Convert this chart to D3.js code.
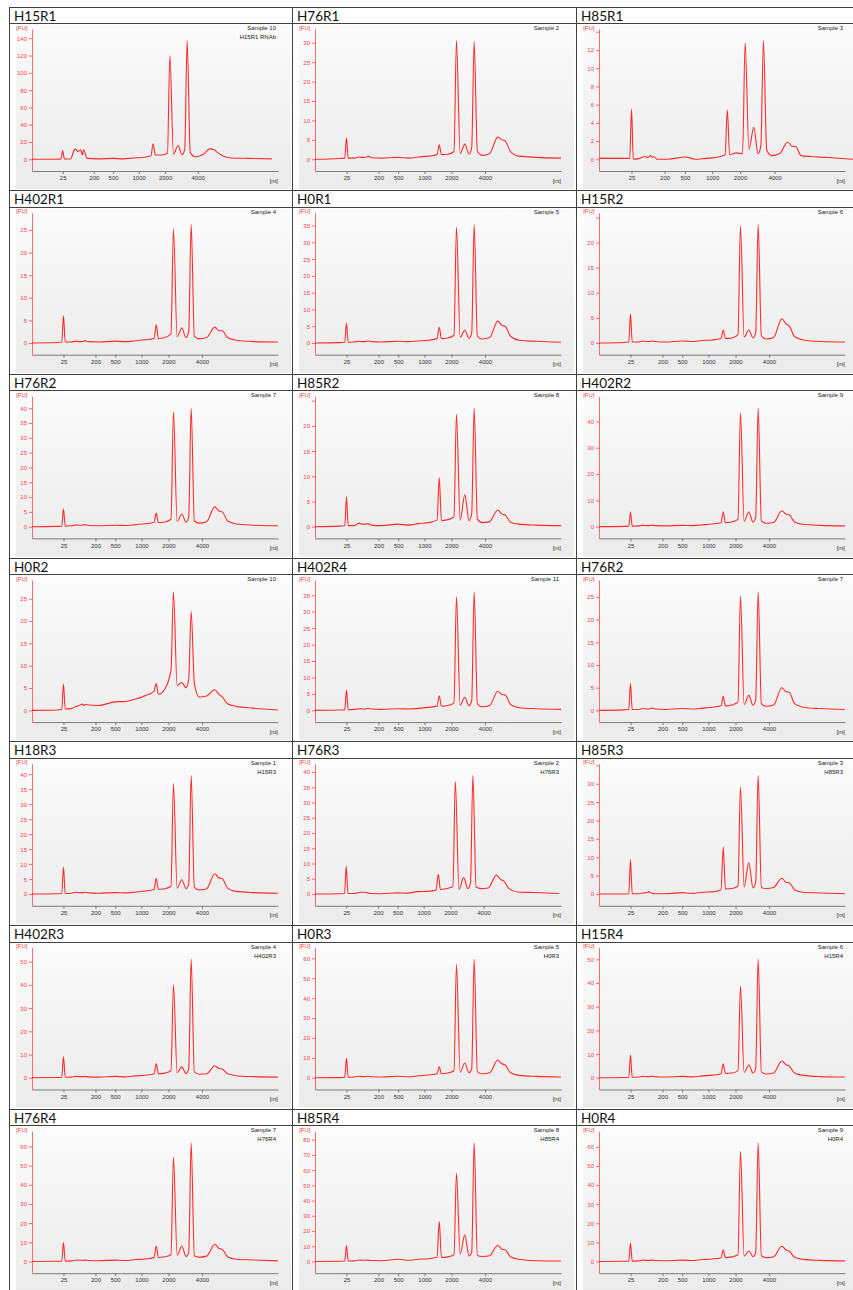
<!DOCTYPE html>
<html>
<head>
<meta charset="utf-8">
<script src="https://cdn.jsdelivr.net/npm/d3@7"></script>
<style>
  html, body { margin: 0; padding: 0; background: #ffffff; }
  svg { display: block; }
  .title { font-family: Lato, "Noto Sans", sans-serif; font-size: 13.5px; fill: #111; }
  .small { font-family: "Liberation Sans", Arial, sans-serif; font-size: 6px; }
</style>
</head>
<body>
<script>
// Electropherogram panels: one per RNA sample (fluorescence [FU] vs. migration, labelled by ladder size [nt])

const titles = [
  "H15R1", "H76R1", "H85R1",
  "H402R1", "H0R1", "H15R2",
  "H76R2", "H85R2", "H402R2",
  "H0R2", "H402R4", "H76R2",
  "H18R3", "H76R3", "H85R3",
  "H402R3", "H0R3", "H15R4",
  "H76R4", "H85R4", "H0R4"
];
const sampleNames = [
  "Sample 10", "Sample 2", "Sample 3",
  "Sample 4", "Sample 5", "Sample 6",
  "Sample 7", "Sample 8", "Sample 9",
  "Sample 10", "Sample 11", "Sample 7",
  "Sample 1", "Sample 2", "Sample 3",
  "Sample 4", "Sample 5", "Sample 6",
  "Sample 7", "Sample 8", "Sample 9"
];
const sampleNotes = [
  "H15R1 RNAb", "", "",
  "", "", "",
  "", "", "",
  "", "", "",
  "H15R3", "H76R3", "H85R3",
  "H402R3", "H0R3", "H15R4",
  "H76R4", "H85R4", "H0R4"
];
// y tick spacing per panel [FU]
const fuStep = [20, 5, 2, 5, 5, 5, 5, 5, 10, 5, 5, 5, 5, 5, 5, 10, 10, 10, 10, 10, 10];

// ladder sizes and their migration times [s]
const ladderSizes = [25, 200, 500, 1000, 2000, 4000];
const ladderTimes = [25.4, 31.9, 35.9, 41.25, 46.75, 53.55];
// start and end of each run's time window [s]
const runStart = 19;
const runEnd = [70.3, 69, 67.4, 69, 69, 69, 69, 69, 69, 69, 69, 69, 69, 69.4, 69, 69, 69, 69, 69, 69, 69];

// migration times [s] at which each trace is sampled
const migrationTimes = [19, 24, 25.05, 25.4, 25.75, 27, 28, 28.6, 29.15, 29.5, 29.75, 30.5, 32.5, 35.9,
  38, 40, 42, 43.8, 44.25, 44.7, 46, 47.25, 47.75, 48.5, 49.45, 50.3, 50.85, 51.35,
  52, 53, 54.5, 56.15, 57, 57.65, 58.75, 60.5, 64, 69];

// fluorescence [FU] at the migration times above
const fuH15R1  = [0, 0, 0.5, 10, 0.5, 0.3, 12, 9, 11, 5, 11, 1, 0.5, 1, 0.5, 1.5, 2, 4, 18, 5, 5, 7, 120, 6, 16, 5, 12, 137, 8, 3, 5, 12, 11, 8, 4, 1.5, 1, 0.5];
const fuH76R1  = [0, 0.2, 0.3, 5.5, 0.3, 0.3, 0.6, 0.5, 0.5, 0.6, 0.8, 0.4, 0.3, 0.5, 0.3, 0.6, 0.8, 1.2, 3.7, 1.2, 1.3, 2, 30.5, 1.5, 3.9, 1.3, 3, 30.3, 2, 1, 1.5, 5.7, 5, 4.7, 2, 0.8, 0.5, 0.3];
const fuH85R1  = [0.1, 0.1, 0.1, 5.5, 0, 0.1, 0.3, 0.2, 0.4, 0.2, 0.3, 0, 0, 0.25, 0, 0.1, 0.2, 0.5, 5.4, 0.5, 0.7, 0.6, 12.8, 1.1, 3.5, 0.6, 1.5, 13, 1, 0.4, 0.6, 1.9, 1.4, 1.4, 0.4, 0.3, 0.2, 0];
const fuH402R1 = [0, 0.1, 0.2, 6, 0.2, 0.2, 0.4, 0.3, 0.3, 0.4, 0.5, 0.3, 0.2, 0.4, 0.3, 0.5, 0.7, 1, 4, 1, 1.2, 2, 25.2, 1.4, 3.3, 1.2, 2.5, 26.2, 1.5, 0.9, 1.2, 3.5, 2.7, 2.7, 1.2, 0.6, 0.3, 0.2];
const fuH0R1   = [0, 0.1, 0.2, 5.9, 0.2, 0.3, 0.5, 0.4, 0.4, 0.5, 0.6, 0.4, 0.3, 0.5, 0.4, 0.6, 0.8, 1.3, 4.7, 1.3, 1.5, 2.3, 34.5, 1.7, 3.8, 1.4, 3, 35.3, 2, 1.2, 1.6, 6.5, 5.2, 5, 2, 0.8, 0.5, 0.2];
const fuH15R2  = [0, 0.1, 0.2, 5.8, 0.2, 0.2, 0.4, 0.3, 0.3, 0.3, 0.4, 0.3, 0.2, 0.4, 0.3, 0.5, 0.6, 0.9, 2.6, 0.9, 1, 1.6, 23.3, 1.2, 2.6, 1, 2, 23.6, 1.4, 0.8, 1.1, 4.8, 3.8, 3.4, 1.3, 0.6, 0.3, 0.2];
const fuH76R2  = [0, 0.1, 0.2, 6, 0.2, 0.3, 0.6, 0.5, 0.5, 0.6, 0.7, 0.4, 0.3, 0.5, 0.4, 0.7, 1, 1.4, 4.6, 1.4, 1.6, 2.5, 38.8, 1.8, 4.3, 1.5, 3.2, 40, 2, 1.2, 1.7, 6.7, 5.3, 5, 2, 0.9, 0.5, 0.3];
const fuH85R2  = [0, 0.1, 0.2, 5.9, 0.2, 0.2, 0.7, 0.5, 0.5, 0.5, 0.6, 0.3, 0.2, 0.5, 0.3, 0.6, 0.8, 1.3, 9.7, 1.2, 1.4, 2, 22.3, 1.3, 6.3, 1.2, 2.6, 23.5, 1.5, 0.8, 1, 3.3, 2.5, 2.3, 0.9, 0.5, 0.3, 0.2];
const fuH402R2 = [0, 0.1, 0.2, 5.6, 0.2, 0.3, 0.5, 0.4, 0.4, 0.5, 0.6, 0.4, 0.3, 0.5, 0.4, 0.7, 1, 1.5, 5.6, 1.5, 1.8, 2.8, 43.2, 2, 5.6, 1.7, 3.5, 45, 2.2, 1.3, 1.6, 6, 4.8, 4.5, 1.8, 0.9, 0.5, 0.3];
const fuH0R2   = [0, 0.1, 0.2, 5.9, 0.3, 0.4, 0.9, 1.1, 1.4, 1.1, 1.3, 1.2, 1.1, 1.9, 2.0, 2.5, 3.3, 4.3, 6.0, 3.6, 4.8, 9, 26.5, 5.6, 6.2, 5.1, 7, 22.1, 6, 3.0, 3.2, 4.6, 3.6, 3.0, 1.5, 0.9, 0.5, 0.1];
const fuH402R4 = [0, 0.1, 0.2, 6.2, 0.2, 0.3, 0.5, 0.4, 0.4, 0.5, 0.6, 0.4, 0.3, 0.5, 0.4, 0.6, 0.9, 1.3, 4.4, 1.3, 1.5, 2.3, 34.5, 1.6, 4, 1.4, 3, 36, 2, 1.1, 1.5, 5.8, 4.8, 4.7, 1.8, 0.8, 0.5, 0.3];
const fuH76R2b = [0, 0.1, 0.2, 5.9, 0.2, 0.2, 0.4, 0.3, 0.3, 0.4, 0.5, 0.3, 0.2, 0.4, 0.3, 0.5, 0.7, 1, 3.1, 1, 1.2, 1.8, 25.2, 1.3, 3.3, 1.1, 2.3, 26.1, 1.5, 0.9, 1.2, 5, 4.1, 4, 1.5, 0.7, 0.4, 0.2];
const fuH18R3  = [0, 0.1, 0.2, 9, 0.2, 0.3, 0.6, 0.5, 0.5, 0.5, 0.6, 0.4, 0.3, 0.5, 0.4, 0.7, 1, 1.5, 5.3, 1.6, 1.8, 2.6, 36.8, 2, 4.8, 1.8, 3.5, 39.5, 2.2, 1.4, 1.8, 6.8, 5.4, 5.2, 2, 0.9, 0.5, 0.3];
const fuH76R3  = [0, 0.1, 0.2, 9.2, 0.2, 0.2, 0.5, 0.6, 0.6, 0.5, 0.4, 0.2, 0.1, 0.4, 0.3, 0.8, 0.9, 1.3, 6.5, 1.5, 1.8, 2.5, 36.9, 1.5, 5.4, 1.8, 3.5, 38.8, 2.3, 1.8, 2, 6.2, 4.8, 4.3, 1.8, 0.7, 0.5, 0.2];
const fuH85R3  = [0, 0, 0.1, 9.3, 0.1, 0.1, 0.3, 0.4, 0.6, 0.4, 0.2, 0.1, 0.1, 0.4, 0.2, 0.5, 0.6, 1.2, 12.8, 1.4, 1.5, 2.2, 29.1, 2, 8.6, 1.7, 3.3, 32.2, 1.8, 1.5, 1.8, 4.3, 3.2, 3.1, 1.2, 0.5, 0.3, 0.1];
const fuH402R3 = [0, 0.1, 0.2, 9, 0.2, 0.3, 0.6, 0.5, 0.5, 0.5, 0.6, 0.4, 0.3, 0.6, 0.4, 0.8, 1.1, 1.6, 6, 1.7, 2, 3, 40, 2.2, 4.7, 1.8, 3.8, 51, 2.5, 1.5, 1.7, 5.1, 4, 3.8, 1.7, 0.9, 0.5, 0.3];
const fuH0R3   = [0, 0.1, 0.3, 9.9, 0.3, 0.4, 0.8, 0.6, 0.6, 0.7, 0.8, 0.5, 0.4, 0.8, 0.5, 1, 1.4, 2, 5.5, 2, 2.4, 3.5, 57, 2.8, 7.4, 2.5, 4.5, 59.5, 3, 2, 2.5, 8.9, 7, 6.4, 2.5, 1.2, 0.7, 0.4];
const fuH15R4  = [0, 0.1, 0.2, 9.6, 0.2, 0.3, 0.6, 0.5, 0.5, 0.6, 0.7, 0.4, 0.3, 0.6, 0.4, 0.8, 1.1, 1.7, 5.8, 1.8, 2, 3, 38.7, 2.3, 5.4, 2, 4, 50, 2.5, 1.6, 2, 7.1, 5.5, 5, 2, 1, 0.5, 0.3];
const fuH76R4  = [0, 0.1, 0.2, 9.9, 0.2, 0.3, 0.8, 0.6, 0.6, 0.7, 0.7, 0.5, 0.4, 0.7, 0.5, 1, 1.3, 2, 8.1, 2.1, 2.5, 3.5, 54.3, 3.3, 8.1, 2.6, 4.5, 61.8, 3, 2.2, 2.8, 9, 6.8, 6.4, 2.5, 1.2, 0.8, 0.3];
const fuH85R4  = [0, 0.1, 0.3, 10.3, 0.3, 0.4, 1, 0.8, 0.8, 0.9, 0.9, 0.6, 0.5, 1.5, 0.8, 1.5, 1.8, 2.8, 26.3, 2.6, 3, 4.5, 57.9, 4.8, 17.5, 3.7, 6, 77.8, 4, 3.3, 3.8, 10.7, 8, 7.7, 3, 1.5, 0.5, 0.3];
const fuH0R4   = [0, 0.1, 0.2, 9.7, 0.2, 0.3, 0.7, 0.6, 0.6, 0.6, 0.7, 0.5, 0.4, 0.7, 0.5, 1, 1.3, 2, 6, 2, 2.4, 3.5, 57.5, 2.8, 5.5, 2.5, 4.5, 62, 3, 2, 2.5, 8, 6, 5.5, 2.2, 1.1, 0.6, 0.3];

const traces = [
  fuH15R1, fuH76R1, fuH85R1,
  fuH402R1, fuH0R1, fuH15R2,
  fuH76R2, fuH85R2, fuH402R2,
  fuH0R2, fuH402R4, fuH76R2b,
  fuH18R3, fuH76R3, fuH85R3,
  fuH402R3, fuH0R3, fuH15R4,
  fuH76R4, fuH85R4, fuH0R4
];

// ---- page layout ----
const W = 853, H = 1290;
const colLeft = [9, 292, 576];
const rowTop0 = 7, rowPitch = 183.7;
const plot = { left: 23, right: 269, top: 22, bottom: 164 };

const svg = d3.select("body").append("svg").attr("width", W).attr("height", H);

const grad = svg.append("defs").append("linearGradient")
  .attr("id", "panelBg").attr("x1", 0).attr("y1", 0).attr("x2", 0).attr("y2", 1);
grad.append("stop").attr("offset", "0%").attr("stop-color", "#fbfbfb");
grad.append("stop").attr("offset", "100%").attr("stop-color", "#ebebeb");

traces.forEach((fu, i) => {
  const r = Math.floor(i / 3), c = i % 3;
  const L = colLeft[c], T = rowTop0 + r * rowPitch;
  const g = svg.append("g").attr("transform", `translate(${L},${T})`);

  // panel background
  g.append("rect")
    .attr("x", 7).attr("y", 18)
    .attr("width", Math.min(275, W - L - 7)).attr("height", 164)
    .attr("fill", "url(#panelBg)");

  // sample title
  g.append("text").attr("class", "title")
    .attr("x", 5).attr("y", 13.5).text(titles[i]);

  const x = d3.scaleLinear().domain([runStart, runEnd[i]]).range([plot.left, plot.right]);
  const fuMax = d3.max(fu);
  const hi = fuMax * 1.1, lo = -0.09 * hi;
  const y = d3.scaleLinear().domain([lo, hi]).range([plot.bottom, plot.top]);

  // x axis
  const xAxis = g.append("g").attr("transform", `translate(0,${plot.bottom})`)
    .call(d3.axisBottom(x).tickValues(ladderTimes)
      .tickFormat((d, k) => ladderSizes[k]).tickSize(3).tickSizeOuter(0).tickPadding(2));
  xAxis.select(".domain").attr("stroke", "#7c7c7c");
  xAxis.selectAll(".tick line").attr("stroke", "#7c7c7c");
  xAxis.selectAll(".tick text").attr("class", "small").attr("fill", "#333");

  g.append("text").attr("class", "small").attr("fill", "#333")
    .attr("x", plot.right).attr("y", plot.bottom + 11.5)
    .attr("text-anchor", "end").text("[nt]");

  // y axis
  const yTicks = d3.range(0, hi, fuStep[i]);
  const yAxis = g.append("g").attr("transform", `translate(${plot.left},0)`)
    .call(d3.axisLeft(y).tickValues(yTicks).tickSize(3).tickSizeOuter(0).tickPadding(2));
  yAxis.select(".domain").attr("stroke", "#ff6b6b");
  yAxis.selectAll(".tick line").attr("stroke", "#ff6b6b");
  yAxis.selectAll(".tick text").attr("class", "small").attr("fill", "#ff4040")
    .filter(d => y(d) - plot.top < 7).remove();

  g.append("text").attr("class", "small").attr("fill", "#ff4040")
    .attr("x", plot.left - 4.5).attr("y", plot.top + 0.5)
    .attr("text-anchor", "end").text("[FU]");

  // sample labels
  g.append("text").attr("class", "small").attr("fill", "#222")
    .attr("x", 267).attr("y", 23).attr("text-anchor", "end").text(sampleNames[i]);
  if (sampleNotes[i]) {
    g.append("text").attr("class", "small").attr("fill", "#222")
      .attr("x", 267).attr("y", 32).attr("text-anchor", "end").text(sampleNotes[i]);
  }

  // trace
  const line = d3.line()
    .x((d, k) => x(migrationTimes[k]))
    .y(d => y(d))
    .curve(d3.curveMonotoneX);
  g.append("path").datum(fu)
    .attr("d", line)
    .attr("fill", "none")
    .attr("stroke", "#ff2b2b")
    .attr("stroke-width", 1.1)
    .attr("stroke-linejoin", "round");
});

// ---- grid of cell borders ----
const borders = svg.append("g").attr("stroke", "#404040").attr("stroke-width", 1)
  .attr("shape-rendering", "crispEdges");
d3.range(7).forEach(r => {
  const T = rowTop0 + r * rowPitch;
  borders.append("line").attr("x1", colLeft[0]).attr("x2", W).attr("y1", T).attr("y2", T);
  borders.append("line").attr("x1", colLeft[0]).attr("x2", W).attr("y1", T + 16.5).attr("y2", T + 16.5);
});
colLeft.forEach(xl => {
  borders.append("line").attr("x1", xl).attr("x2", xl).attr("y1", rowTop0).attr("y2", H);
});
</script>
</body>
</html>
